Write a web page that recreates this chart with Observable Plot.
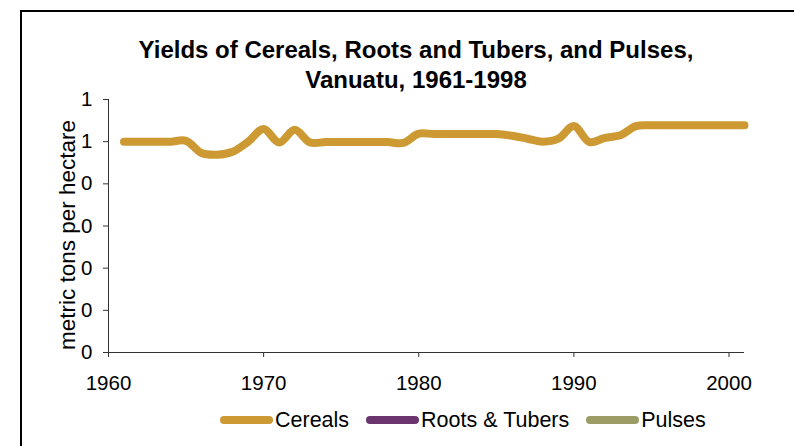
<!DOCTYPE html>
<html>
<head>
<meta charset="utf-8">
<script src="https://cdn.jsdelivr.net/npm/d3@7"></script>
<script src="https://cdn.jsdelivr.net/npm/@observablehq/plot@0.6"></script>
<style>
  html, body { margin: 0; padding: 0; background: #fff; }
  #chart { position: relative; width: 794px; height: 446px; overflow: hidden; background: #fff;
           font-family: "Liberation Sans", Arial, sans-serif; color: #000; }
  #frame { position: absolute; left: 20px; top: 10px; width: 830px; height: 480px; border: 2px solid #000; box-sizing: border-box; }
  #title { position: absolute; left: 116px; width: 600px; top: 35px; text-align: center;
           font-weight: bold; font-size: 24px; line-height: 30px; }
  #ytitle { position: absolute; left: 68px; top: 235px; width: 300px; text-align: center; font-size: 22.5px;
            line-height: 26px; transform: translate(-50%, -50%) rotate(-90deg); white-space: nowrap; }
  #plot { position: absolute; left: 0; top: 90px; }
  #legend { position: absolute; left: 220px; top: 407px; display: flex; align-items: center; font-size: 21.5px; line-height: 26px; }
  .item { display: flex; align-items: center; margin-right: 17px; }
  .sw { width: 53px; height: 8px; border-radius: 4px; margin-right: 2px; }
</style>
</head>
<body>
<div id="chart">
  <div id="frame"></div>
  <div id="title"></div>
  <div id="ytitle"></div>
  <div id="plot"></div>
  <div id="legend"></div>
</div>
<script>
// ---- data ----
const titleLines = ["Yields of Cereals, Roots and Tubers, and Pulses,", "Vanuatu, 1961-1998"];
const yAxisTitle = "metric tons per hectare";
const seriesNames = ["Cereals", "Roots & Tubers", "Pulses"];
const seriesColors = ["#CC9933", "#6B3570", "#9C9C66"];
const years = [1961,1962,1963,1964,1965,1966,1967,1968,1969,1970,
               1971,1972,1973,1974,1975,1976,1977,1978,1979,1980,
               1981,1982,1983,1984,1985,1986,1987,1988,1989,1990,
               1991,1992,1993,1994,1995,1996,1997,1998,1999,2000,2001];
const cereals = [0.500,0.500,0.500,0.500,0.502,0.473,0.469,0.476,0.500,0.530,
                 0.498,0.528,0.498,0.499,0.499,0.499,0.499,0.499,0.497,0.519,
                 0.518,0.518,0.518,0.518,0.518,0.514,0.507,0.500,0.507,0.537,
                 0.499,0.509,0.515,0.537,0.539,0.539,0.539,0.539,0.539,0.539,0.539];
const xTicks = [1960, 1970, 1980, 1990, 2000];
const yTicks = [0, 0.1, 0.2, 0.3, 0.4, 0.5, 0.6];
const xDomain = [1960, 2001];
const yDomain = [0, 0.6];

// ---- build ----
document.getElementById("title").innerHTML = titleLines.join("<br>");
document.getElementById("ytitle").textContent = yAxisTitle;

const rows = years.map((yr, i) => ({year: yr, value: cereals[i], series: seriesNames[0]}));

const chart = Plot.plot({
  width: 794,
  height: 310,
  marginLeft: 108,
  marginRight: 50,
  marginTop: 9,
  marginBottom: 48,
  style: {fontFamily: '"Liberation Sans", Arial, sans-serif', color: "#000", background: "transparent", overflow: "visible"},
  x: {domain: xDomain},
  y: {domain: yDomain},
  marks: [
    Plot.axisX({ticks: xTicks, tickSize: 5, tickPadding: 18, fontSize: 20.5, tickFormat: d => String(d), label: null, stroke: "#333"}),
    Plot.axisY({ticks: yTicks, tickSize: 5, tickPadding: 11, fontSize: 20.5, tickFormat: d3.format(".0f"), label: null, stroke: "#333"}),
    Plot.ruleY([yDomain[0]], {stroke: "#333", strokeWidth: 1}),
    Plot.ruleX([xDomain[0]], {stroke: "#333", strokeWidth: 1}),
    Plot.line(rows, {x: "year", y: "value", stroke: seriesColors[0], strokeWidth: 8,
                     curve: "catmull-rom", strokeLinecap: "round", strokeLinejoin: "round"})
  ]
});
document.getElementById("plot").appendChild(chart);

const legend = document.getElementById("legend");
seriesNames.forEach((name, i) => {
  const item = document.createElement("div");
  item.className = "item";
  const sw = document.createElement("div");
  sw.className = "sw";
  sw.style.background = seriesColors[i];
  const label = document.createElement("span");
  label.textContent = name;
  item.appendChild(sw);
  item.appendChild(label);
  legend.appendChild(item);
});
</script>
</body>
</html>
